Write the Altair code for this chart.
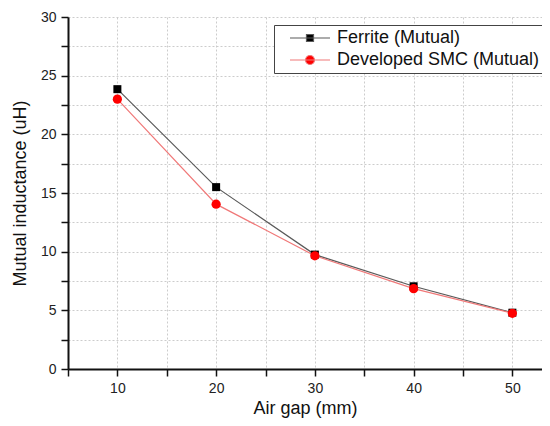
import altair as alt
import pandas as pd

air_gap = [10, 20, 30, 40, 50]
ferrite = [23.85, 15.5, 9.75, 7.05, 4.8]
smc = [23.0, 14.05, 9.65, 6.85, 4.75]
series_names = ["Ferrite (Mutual)", "Developed SMC (Mutual)"]
line_colors = ["#5a5a5a", "#f07878"]
marker_colors = ["#000000", "#ff0000"]
marker_shapes = ["square", "circle"]
marker_sizes = [64, 85]
x_ticks = [5, 10, 15, 20, 25, 30, 35, 40, 45, 50]
y_ticks = [0, 2.5, 5, 7.5, 10, 12.5, 15, 17.5, 20, 22.5, 25, 27.5, 30]

# legend symbols: line segment + marker (custom SVG paths, unit = half symbol size)
legend_paths = [
    "M0.375,0L5.375,0M2.4375,-0.4375L3.3125,-0.4375L3.3125,0.4375L2.4375,0.4375Z",
    "M0.375,0L5.375,0M2.3125,0A0.5625,0.5625,0,1,1,3.4375,0A0.5625,0.5625,0,1,1,2.3125,0Z",
]

rows = []
for name, vals in zip(series_names, [ferrite, smc]):
    for g, v in zip(air_gap, vals):
        rows.append({"gap": g, "value": v, "series": name})
df = pd.DataFrame(rows)

x_enc = alt.X(
    "gap:Q",
    scale=alt.Scale(domain=[5, 53], nice=False, zero=False),
    axis=alt.Axis(
        values=x_ticks,
        labelExpr="datum.value % 10 === 0 ? datum.label : ''",
        title="Air gap (mm)",
        labelPadding=5,
        titlePadding=4,
        grid=True,
    ),
)
y_enc = alt.Y(
    "value:Q",
    scale=alt.Scale(domain=[0, 30], nice=False),
    axis=alt.Axis(
        values=y_ticks,
        format="~g",
        labelExpr="datum.value % 5 === 0 ? datum.label : ''",
        title="Mutual inductance (uH)",
        labelPadding=5,
        titlePadding=11,
        grid=True,
    ),
)

base = alt.Chart(df)

lines = base.mark_line(strokeWidth=1.2).encode(
    x=x_enc,
    y=y_enc,
    stroke=alt.Stroke("series:N", scale=alt.Scale(domain=series_names, range=line_colors), legend=None),
    detail="series:N",
)

points = base.mark_point(filled=True, opacity=1).encode(
    x=x_enc,
    y=y_enc,
    fill=alt.Fill("series:N", scale=alt.Scale(domain=series_names, range=marker_colors), legend=None),
    shape=alt.Shape("series:N", scale=alt.Scale(domain=series_names, range=marker_shapes), legend=None),
    size=alt.Size("series:N", scale=alt.Scale(domain=series_names, range=marker_sizes), legend=None),
)

leg = alt.Legend(
    orient="none",
    legendX=206,
    legendY=8,
    title=None,
    symbolSize=256,
    symbolStrokeWidth=1.2,
    labelFontSize=18,
    labelOffset=41,
    labelLimit=400,
    padding=4,
    rowPadding=4,
    fillColor="white",
    strokeColor="#444444",
    labelColor="#111111",
)

legend_layer = base.mark_point(filled=True, opacity=1).encode(
    x=x_enc,
    y=y_enc,
    shape=alt.Shape("series:N", scale=alt.Scale(domain=series_names, range=legend_paths), legend=leg),
    fill=alt.Fill("series:N", scale=alt.Scale(domain=series_names, range=marker_colors), legend=leg),
    stroke=alt.Stroke("series:N", scale=alt.Scale(domain=series_names, range=line_colors), legend=leg),
).transform_filter("false")

chart = (
    alt.layer(lines, points, legend_layer)
    .resolve_scale(shape="independent", fill="independent", stroke="independent", size="independent")
    .properties(
        width=474,
        height=352,
        autosize=alt.AutoSizeParams(type="none"),
        padding={"left": 60, "top": 9, "right": 0, "bottom": 49},
        background="white",
    )
    .configure(font="Liberation Sans")
    .configure_view(stroke=None)
    .configure_axis(
        domainColor="#111111",
        domainWidth=2,
        tickColor="#111111",
        tickWidth=1.5,
        tickSize=7,
        labelFontSize=14,
        labelColor="#222222",
        titleFontSize=18,
        titleFontWeight="normal",
        titleColor="#111111",
        gridColor="#cccccc",
        gridDash=[2, 2],
        gridWidth=1,
        gridOpacity=1,
    )
)

chart.save("out.html", embed_options={"renderer": "svg", "actions": False})
